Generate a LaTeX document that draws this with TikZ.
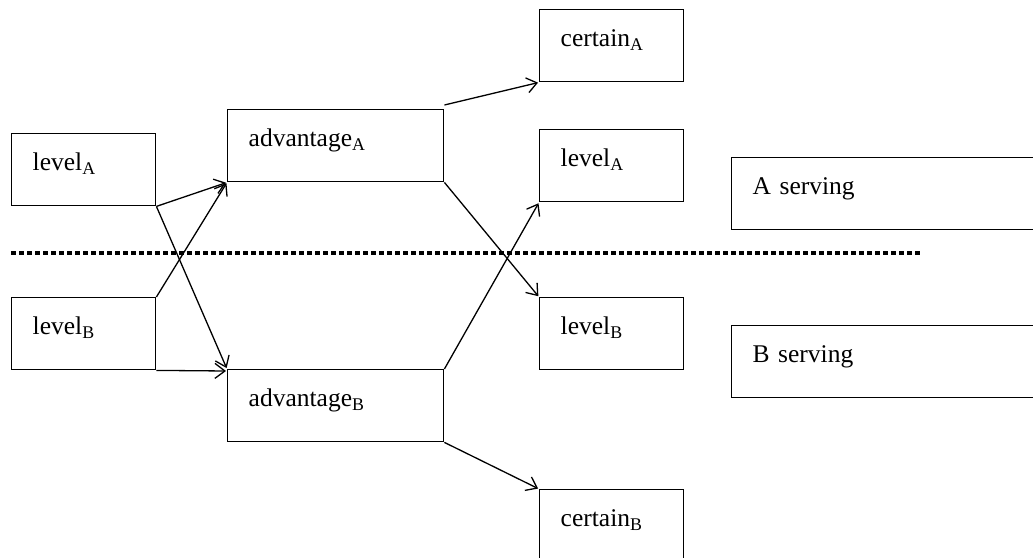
\documentclass[tikz,border=0pt]{standalone}
\usepackage{fontspec}
\setmainfont{Liberation Serif}
\usepackage{tikz}
\usetikzlibrary{arrows.meta, positioning}

\begin{document}
\begin{tikzpicture}[
    x=1pt, y=-1pt,
    box/.style={draw, line width=1.4pt, rectangle, anchor=north west, align=left,
                inner xsep=21pt, inner ysep=0pt, text height=37pt, text depth=35pt,
                text width=102pt, font=\fontsize{25.5}{28}\selectfont},
    widebox/.style={box, text width=174pt},
    servebox/.style={box, text width=288pt},
    link/.style={line width=1.3pt, -{Straight Barb[length=10pt, width=15pt]}, shorten >=1pt},
    divider/.style={line width=3.5pt, dash pattern=on 4.5pt off 3.5pt}
]
    \useasboundingbox (0,0) rectangle (1033,557);

    % ==================== INPUT LEVELS ====================
    \node[box] (levelA) at (11,133) {level\textsubscript{A}};
    \node[box] (levelB) at (11,297) {level\textsubscript{B}};

    % ==================== ADVANTAGES ====================
    \node[widebox] (advA) at (227,109) {advantage\textsubscript{A}};
    \node[widebox] (advB) at (227,369) {advantage\textsubscript{B}};

    % ==================== OUTCOMES ====================
    \node[box] (certA) at (539,9) {certain\textsubscript{A}};
    \node[box] (outA) at (539,129) {level\textsubscript{A}};
    \node[box] (outB) at (539,297) {level\textsubscript{B}};
    \node[box] (certB) at (539,489) {certain\textsubscript{B}};

    % ==================== SERVING ====================
    \node[servebox] (servA) at (731,157) {A serving};
    \node[servebox] (servB) at (731,325) {B serving};

    % ==================== DIVIDER ====================
    \coordinate (divL) at (11,253);
    \coordinate (divR) at (920,253);
    \draw[divider] (divL) -- (divR);

    % ==================== ARROWS ====================
    \draw[link] (levelA.south east) -- (advA.south west);
    \draw[link] (levelA.south east) -- (advB.north west);
    \draw[link] (levelB.north east) -- (advA.south west);
    \draw[link] (levelB.south east) -- ([yshift=-2pt]advB.north west);

    \draw[link] ([yshift=4pt]advA.north east) -- (certA.south west);
    \draw[link] (advA.south east) -- (outB.north west);
    \draw[link] (advB.north east) -- (outA.south west);
    \draw[link] (advB.south east) -- (certB.north west);
\end{tikzpicture}
\end{document}
